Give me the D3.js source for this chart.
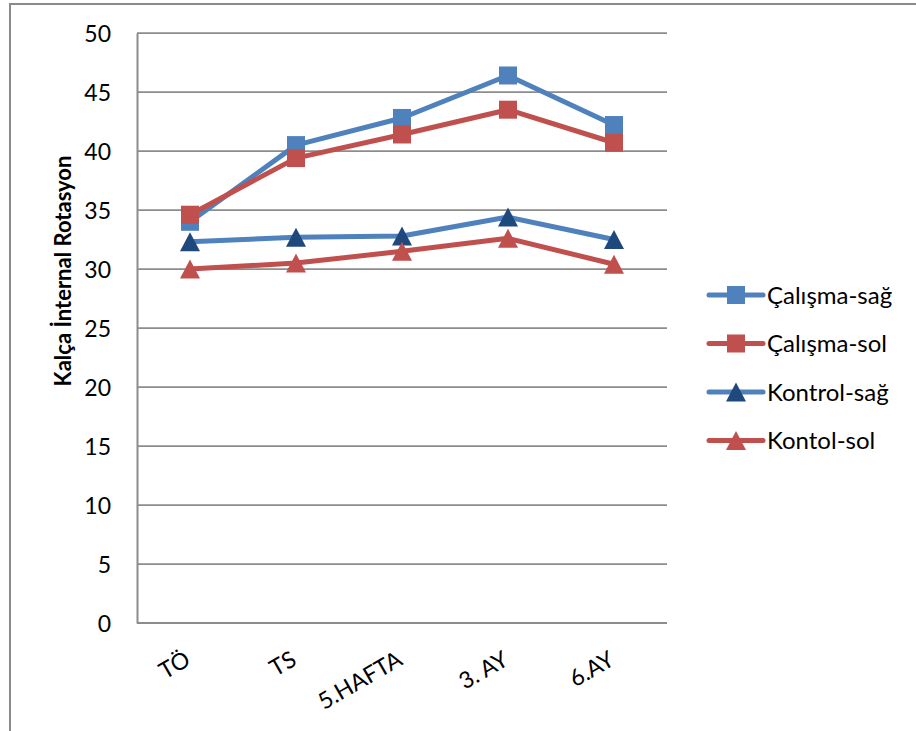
<!DOCTYPE html>
<html>
<head>
<meta charset="utf-8">
<script src="https://cdn.jsdelivr.net/npm/d3@7/dist/d3.min.js"></script>
<style>
  html, body { margin: 0; padding: 0; background: #fff; }
  svg { display: block; }
  text { font-family: Lato, "Open Sans", "Noto Sans", sans-serif; fill: #000; }
</style>
</head>
<body>
<svg id="chart" width="916" height="731"></svg>
<script>
// Time points of measurement
const categories = ["TÖ", "TS", "5.HAFTA", "3. AY", "6.AY"];

// Hip internal rotation per group and side
const calismaSag = [34.0, 40.5, 42.8, 46.4, 42.2];
const calismaSol = [34.6, 39.4, 41.4, 43.5, 40.7];
const kontrolSag = [32.3, 32.7, 32.8, 34.4, 32.5];
const kontolSol  = [30.0, 30.5, 31.5, 32.6, 30.4];

const seriesNames = ["Çalışma-sağ", "Çalışma-sol", "Kontrol-sağ", "Kontol-sol"];
const yTicks = [0, 5, 10, 15, 20, 25, 30, 35, 40, 45, 50];

const series = [
  { name: seriesNames[0], values: calismaSag, line: "#4F81BD", marker: "#4F81BD", shape: "square" },
  { name: seriesNames[1], values: calismaSol, line: "#C0504D", marker: "#C0504D", shape: "square" },
  { name: seriesNames[2], values: kontrolSag, line: "#4F81BD", marker: "#1F497D", shape: "triangle" },
  { name: seriesNames[3], values: kontolSol,  line: "#C0504D", marker: "#C0504D", shape: "triangle" }
];

const svg = d3.select("#chart");

// Outer chart frame
svg.append("rect")
  .attr("x", 10).attr("y", 4)
  .attr("width", 1000).attr("height", 1000)
  .attr("fill", "none")
  .attr("stroke", "#8a8a8a")
  .attr("stroke-width", 2);

const plot = { left: 137, right: 667, top: 33, bottom: 623 };

const x = d3.scalePoint()
  .domain(categories)
  .range([plot.left, plot.right])
  .padding(0.5);

const y = d3.scaleLinear()
  .domain([0, 50])
  .range([plot.bottom, plot.top]);

// Horizontal gridlines
svg.append("g")
  .selectAll("line")
  .data(yTicks)
  .join("line")
  .attr("x1", plot.left).attr("x2", plot.right)
  .attr("y1", d => y(d)).attr("y2", d => y(d))
  .attr("stroke", "#8c8c8c")
  .attr("stroke-width", 1.75);

// Y axis
const yAxis = svg.append("g")
  .attr("transform", `translate(${plot.left},0)`)
  .call(d3.axisLeft(y).tickValues(yTicks).tickSize(0).tickPadding(26));
yAxis.select(".domain").attr("stroke", "#8c8c8c").attr("stroke-width", 2);
yAxis.selectAll("text")
  .style("font-family", "Lato, 'Open Sans', sans-serif")
  .style("font-size", "23px")
  .attr("dy", "0.36em");

// X axis line
svg.append("line")
  .attr("x1", plot.left).attr("x2", plot.right)
  .attr("y1", plot.bottom).attr("y2", plot.bottom)
  .attr("stroke", "#8c8c8c").attr("stroke-width", 2);

// X category labels, rotated
svg.append("g")
  .selectAll("text")
  .data(categories)
  .join("text")
  .attr("transform", d => `translate(${x(d) + 2},${plot.bottom + 41}) rotate(-30)`)
  .attr("text-anchor", "end")
  .style("font-size", "23px")
  .text(d => d);

// Y axis title
svg.append("text")
  .attr("transform", "translate(71,271) rotate(-90)")
  .attr("text-anchor", "middle")
  .style("font-size", "22px")
  .style("font-weight", "bold")
  .text("Kalça İnternal Rotasyon");

const lineGen = d3.line()
  .x((d, i) => x(categories[i]))
  .y(d => y(d));

const sq = 18;
function drawMarker(g, shape, color, cx, cy) {
  if (shape === "square") {
    g.append("rect")
      .attr("x", cx - sq / 2).attr("y", cy - sq / 2)
      .attr("width", sq).attr("height", sq)
      .attr("fill", color);
  } else {
    const w = 20, h = 19;
    g.append("path")
      .attr("d", `M${cx},${cy - h / 2}L${cx + w / 2},${cy + h / 2}L${cx - w / 2},${cy + h / 2}Z`)
      .attr("fill", color);
  }
}

// Series lines and markers
series.forEach(s => {
  const g = svg.append("g");
  g.append("path")
    .datum(s.values)
    .attr("d", lineGen)
    .attr("fill", "none")
    .attr("stroke", s.line)
    .attr("stroke-width", 5)
    .attr("stroke-linejoin", "round")
    .attr("stroke-linecap", "round");
  s.values.forEach((v, i) => drawMarker(g, s.shape, s.marker, x(categories[i]), y(v)));
});

// Legend
const legend = svg.append("g");
series.forEach((s, i) => {
  const ly = 295 + i * 48.5;
  const g = legend.append("g");
  g.append("line")
    .attr("x1", 709).attr("x2", 763)
    .attr("y1", ly).attr("y2", ly)
    .attr("stroke", s.line).attr("stroke-width", 5)
    .attr("stroke-linecap", "round");
  drawMarker(g, s.shape, s.marker, 736, ly);
  g.append("text")
    .attr("x", 767).attr("y", ly)
    .attr("dy", "0.36em")
    .style("font-size", "24px")
    .text(s.name);
});
</script>
</body>
</html>
